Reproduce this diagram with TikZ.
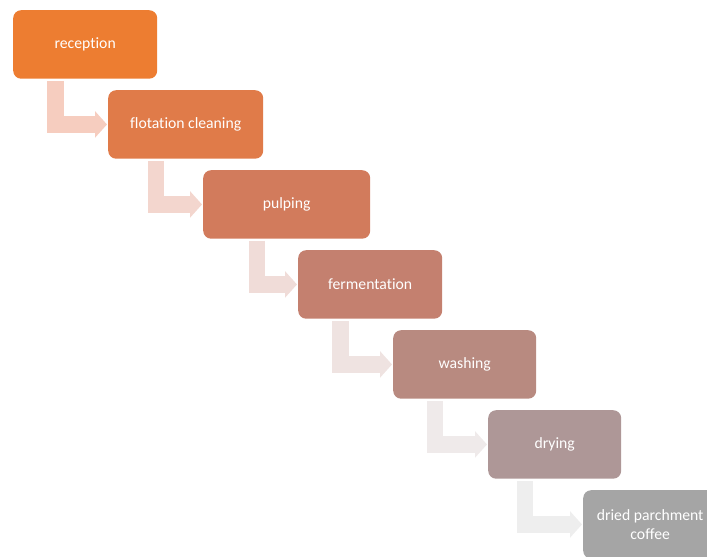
\documentclass[tikz,border=0pt]{standalone}
\usepackage{fontspec}
\setmainfont{Carlito}[Ligatures=NoCommon]
\usetikzlibrary{arrows.meta}
\usetikzlibrary{positioning}

\definecolor{receptioncol}{HTML}{ED7D31}
\definecolor{flotationcol}{HTML}{E07B49}
\definecolor{pulpingcol}{HTML}{D27B5C}
\definecolor{fermentcol}{HTML}{C4806F}
\definecolor{washingcol}{HTML}{B88A80}
\definecolor{dryingcol}{HTML}{AE9797}
\definecolor{parchmentcol}{HTML}{A5A5A5}
\definecolor{elbowa}{HTML}{F6CDBF}
\definecolor{elbowb}{HTML}{F3D6CE}
\definecolor{elbowc}{HTML}{F0DCD8}
\definecolor{elbowd}{HTML}{EFE3E1}
\definecolor{elbowe}{HTML}{EFEAEA}
\definecolor{elbowf}{HTML}{EEEEEE}

\begin{document}
\begin{tikzpicture}[stage/.style={rectangle,rounded corners=8pt,minimum height=68.5pt,
                    inner sep=0pt,text=white,align=center,
                    font=\fontsize{15.7}{19.5}\selectfont},
                    elbow/.style={line width=16.5pt,-{Triangle[width=26pt,length=12pt]},
                    shorten <=2pt,shorten >=1pt}]

  \useasboundingbox (0,0) rectangle (707pt,-557pt);
  \clip (0,0) rectangle (707pt,-557pt);

  % process stages
  \node[stage,fill=receptioncol,minimum width=144pt,anchor=north west] (reception) at (13pt,-10pt) {reception};
  \node[stage,fill=flotationcol,minimum width=155pt,below right=80pt and 95pt of reception.north west] (flotation) {flotation cleaning};
  \node[stage,fill=pulpingcol,minimum width=167pt,below right=80pt and 95pt of flotation.north west] (pulping) {pulping};
  \node[stage,fill=fermentcol,minimum width=144pt,below right=80pt and 95pt of pulping.north west] (fermentation) {fermentation};
  \node[stage,fill=washingcol,minimum width=143pt,below right=80pt and 95pt of fermentation.north west] (washing) {washing};
  \node[stage,fill=dryingcol,minimum width=133pt,below right=80pt and 95pt of washing.north west] (drying) {drying};
  \node[stage,fill=parchmentcol,minimum width=134pt,below right=80pt and 95pt of drying.north west] (parchment) {dried parchment\\coffee};

  % elbow arrows
  \draw[elbow,elbowa] ([xshift=-29.5pt]reception.south) |- (flotation.west);
  \draw[elbow,elbowb] ([xshift=-29.5pt]flotation.south) |- (pulping.west);
  \draw[elbow,elbowc] ([xshift=-29.5pt]pulping.south) |- (fermentation.west);
  \draw[elbow,elbowd] ([xshift=-29.5pt]fermentation.south) |- (washing.west);
  \draw[elbow,elbowe] ([xshift=-29.5pt]washing.south) |- (drying.west);
  \draw[elbow,elbowf] ([xshift=-29.5pt]drying.south) |- (parchment.west);
\end{tikzpicture}
\end{document}
